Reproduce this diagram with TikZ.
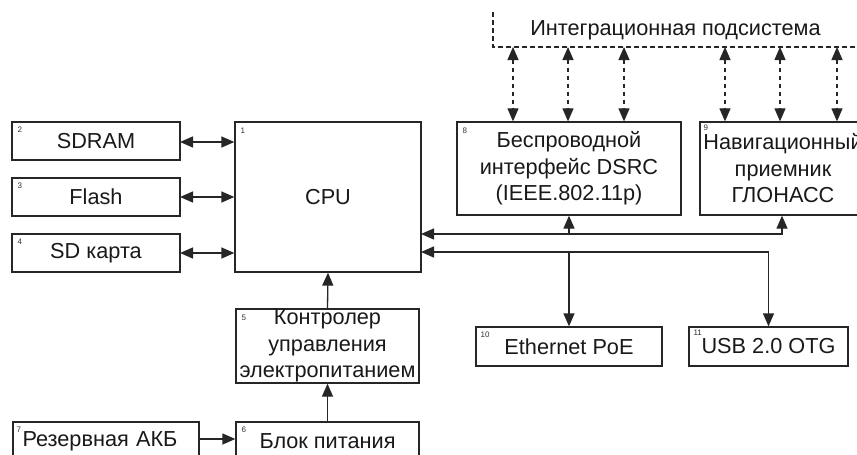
\documentclass[tikz,border=0pt]{standalone}
\usepackage{fontspec}
\setmainfont{Liberation Sans}
\usetikzlibrary{arrows.meta}
\tikzset{myhead/.tip={Triangle[length=13pt,width=11pt]}}
\begin{document}
\begin{tikzpicture}[x=1pt,y=-1pt,
  every node/.style={font=\fontsize{21.7}{26.5}\selectfont, text=black!90},
  box/.style={draw=black!85, line width=1.3pt, inner sep=0pt, align=center},
  num/.style={font=\fontsize{8}{9}\selectfont, inner sep=0pt, anchor=north west, text=black!80},
  conn/.style={line width=1.3pt, draw=black!85},
  both/.style={{myhead}-{myhead}},
  fwd/.style={-{myhead}},
  dconn/.style={line width=1.2pt, draw=black!85, dash pattern=on 4.5pt off 3.5pt}
]
\useasboundingbox (0,0) rectangle (857,455);
\clip (0,0) rectangle (857,455);
\fill[white] (0,0) rectangle (857,455);

% boxes
\node[box, minimum width=168pt, minimum height=38pt] (sdram) at (96,141) {SDRAM};
\node[box, minimum width=168pt, minimum height=38pt] (flash) at (96,197) {Flash};
\node[box, minimum width=168pt, minimum height=38pt] (sd) at (96,253) {SD карта};
\node[box, minimum width=186pt, minimum height=150pt] (cpu) at (328,197) {CPU};
\node[box, minimum width=183pt, minimum height=74pt] (ctrl) at (327.5,346) {Контролер\\управления\\электропитанием};
\node[box, minimum width=183pt, minimum height=38pt] (psu) at (327.5,441) {Блок питания};
\node[box, minimum width=186pt, minimum height=38pt, text width=186pt] (bat) at (106,441) {\hspace*{-12pt}Резервная АКБ};
\node[box, minimum width=224pt, minimum height=93pt] (dsrc) at (569,168.5) {Беспроводной\\интерфейс DSRC\\(IEEE.802.11p)};
\node[box, minimum width=166pt, minimum height=93pt] (nav) at (783,168.5) {Навигационный\\приемник\\ГЛОНАСС};
\node[box, minimum width=186pt, minimum height=39pt] (eth) at (569,346.5) {Ethernet PoE};
\node[box, minimum width=159pt, minimum height=39pt] (usb) at (768.5,346.5) {USB 2.0 OTG};

% number labels
\node[num] (n1) at ([shift={(6,6)}]cpu.north west) {1};
\node[num] (n2) at ([shift={(6,5)}]sdram.north west) {2};
\node[num] (n3) at ([shift={(6,5)}]flash.north west) {3};
\node[num] (n4) at ([shift={(6,5)}]sd.north west) {4};
\node[num] (n5) at ([shift={(6,6)}]ctrl.north west) {5};
\node[num] (n6) at ([shift={(6,5)}]psu.north west) {6};
\node[num] (n7) at ([shift={(4,5)}]bat.north west) {7};
\node[num] (n8) at ([shift={(6,6)}]dsrc.north west) {8};
\node[num] (n9) at ([shift={(4,3)}]nav.north west) {9};
\node[num] (n10) at ([shift={(5,5)}]eth.north west) {10};
\node[num] (n11) at ([shift={(5,3)}]usb.north west) {11};

% integration subsystem
\coordinate (itl) at (493,12);
\coordinate (ibl) at (493,47);
\coordinate (ibr) at (870,47);
\draw[dconn] (itl) -- (ibl) -- (ibr);
\node (integ) at (675.5,30) {Интеграционная подсистема};

\foreach \x/\b [count=\i] in {513/dsrc,568/dsrc,624/dsrc,725/nav,780/nav,837/nav}{
  \coordinate (ia\i) at (\x,47);
  \draw[dconn, both] (ia\i) -- (ia\i |- \b.north);
}

% left memory links
\coordinate (a1) at (180,142);
\coordinate (a2) at (180,197);
\coordinate (a3) at (180,253);
\draw[conn, both] (a1) -- (a1 -| cpu.west);
\draw[conn, both] (a2) -- (a2 -| cpu.west);
\draw[conn, both] (a3) -- (a3 -| cpu.west);

% power chain
\draw[conn, fwd] (ctrl.north) -- (cpu.south);
\draw[conn, fwd] (psu.north) -- (ctrl.south);
\coordinate (b1) at (199,439);
\draw[conn, fwd] (b1) -- (b1 -| psu.west);

% upper bus
\coordinate (u0) at (421,234);
\coordinate (u1) at (569,234);
\coordinate (u2) at (782,234);
\draw[conn, both] (u0) -- (u2) -- (u2 |- nav.south);
\draw[conn, fwd] (u1) -- (dsrc.south);

% lower bus
\coordinate (l0) at (421,252);
\coordinate (l1) at (569,252);
\coordinate (l2) at (768.5,252);
\draw[conn, both] (l0) -- (l2) -- (usb.north);
\draw[conn, fwd] (l1) -- (eth.north);
\end{tikzpicture}
\end{document}
